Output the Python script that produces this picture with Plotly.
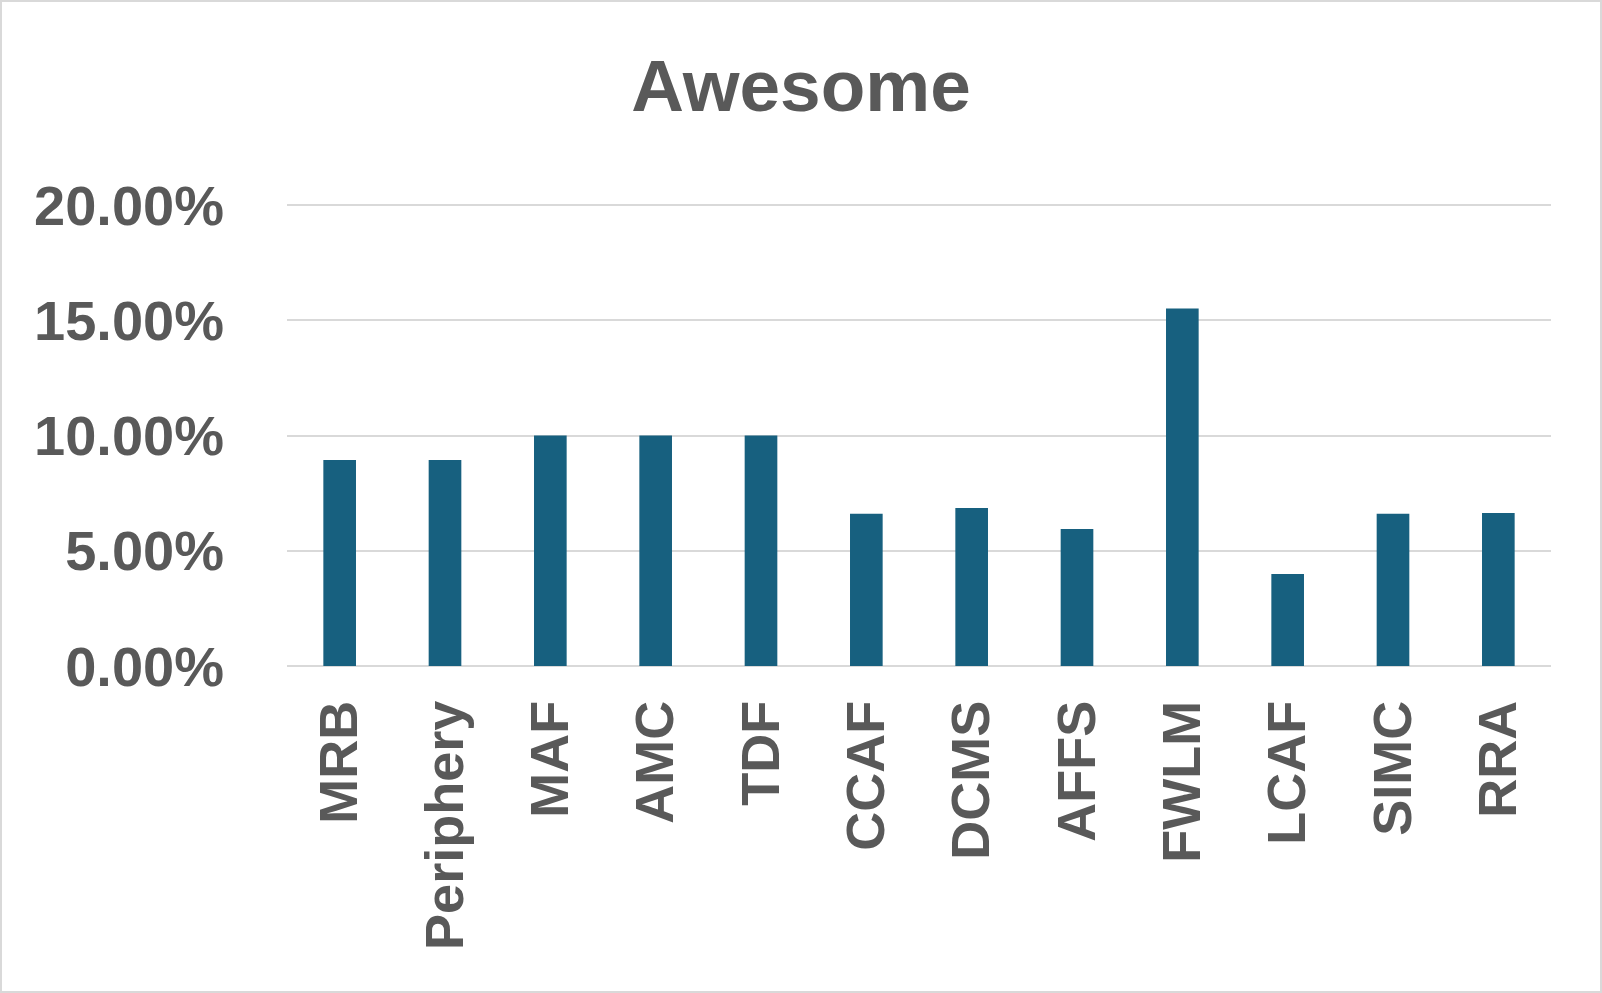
import plotly.graph_objects as go

categories = ["MRB", "Periphery", "MAF", "AMC", "TDF", "CCAF", "DCMS", "AFFS",
              "FWLM", "LCAF", "SIMC", "RRA"]
values = [0.0894, 0.0894, 0.1000, 0.1000, 0.1000, 0.0660, 0.0686, 0.0594,
          0.1551, 0.0399, 0.0660, 0.0664]
y_ticks = [0, 0.05, 0.10, 0.15, 0.20]
y_tick_labels = ["0.00%", "5.00%", "10.00%", "15.00%", "20.00%"]
title_text = "Awesome"

W, H = 1602, 993
L, R, T, B = 287, 51, 201, 327
pw, ph = W - L - R, H - T - B
y_top = 0.2 * ph / 461.0

text_color = "#595959"
bar_color = "#17607F"
grid_color = "#D9D9D9"
font_family = "Liberation Sans, Arial, sans-serif"

fig = go.Figure(go.Bar(
    x=categories, y=values, marker_color=bar_color,
    marker_line_width=0,
))

fig.update_layout(
    width=W, height=H,
    margin=dict(l=L, r=R, t=T, b=B, pad=0),
    paper_bgcolor="white", plot_bgcolor="white",
    bargap=0.69,
    showlegend=False,
    title=dict(text=f"<b>{title_text}</b>", x=0.5, xanchor="center",
               xref="container", y=1 - 85 / H, yanchor="middle", yref="container",
               font=dict(family=font_family, size=73, color=text_color)),
    font=dict(family=font_family, color=text_color),
    shapes=[dict(type="rect", xref="paper", yref="paper",
                 x0=(1 - L) / pw, x1=1 + (R - 1) / pw,
                 y0=-(B - 1) / ph, y1=1 + (T - 1) / ph,
                 line=dict(color=grid_color, width=2), fillcolor="rgba(0,0,0,0)",
                 layer="below")],
)

fig.update_yaxes(
    range=[0, y_top], tickvals=y_ticks, ticktext=[f"<b>{t}</b>" for t in y_tick_labels],
    tickfont=dict(size=56, color=text_color, family=font_family),
    showgrid=True, gridcolor=grid_color, gridwidth=2,
    zeroline=True, zerolinecolor=grid_color, zerolinewidth=2,
    showline=False, ticks="", ticklabelstandoff=62,
)
fig.update_xaxes(
    tickangle=-90, tickvals=categories, ticktext=[f"<b>{c}</b>" for c in categories],
    tickfont=dict(size=54, color=text_color, family=font_family),
    showgrid=False, showline=False, ticks="", ticklabelstandoff=23,
)

fig.write_html("out.html", config={"displayModeBar": False},
               post_script="document.body.style.margin='0';")
